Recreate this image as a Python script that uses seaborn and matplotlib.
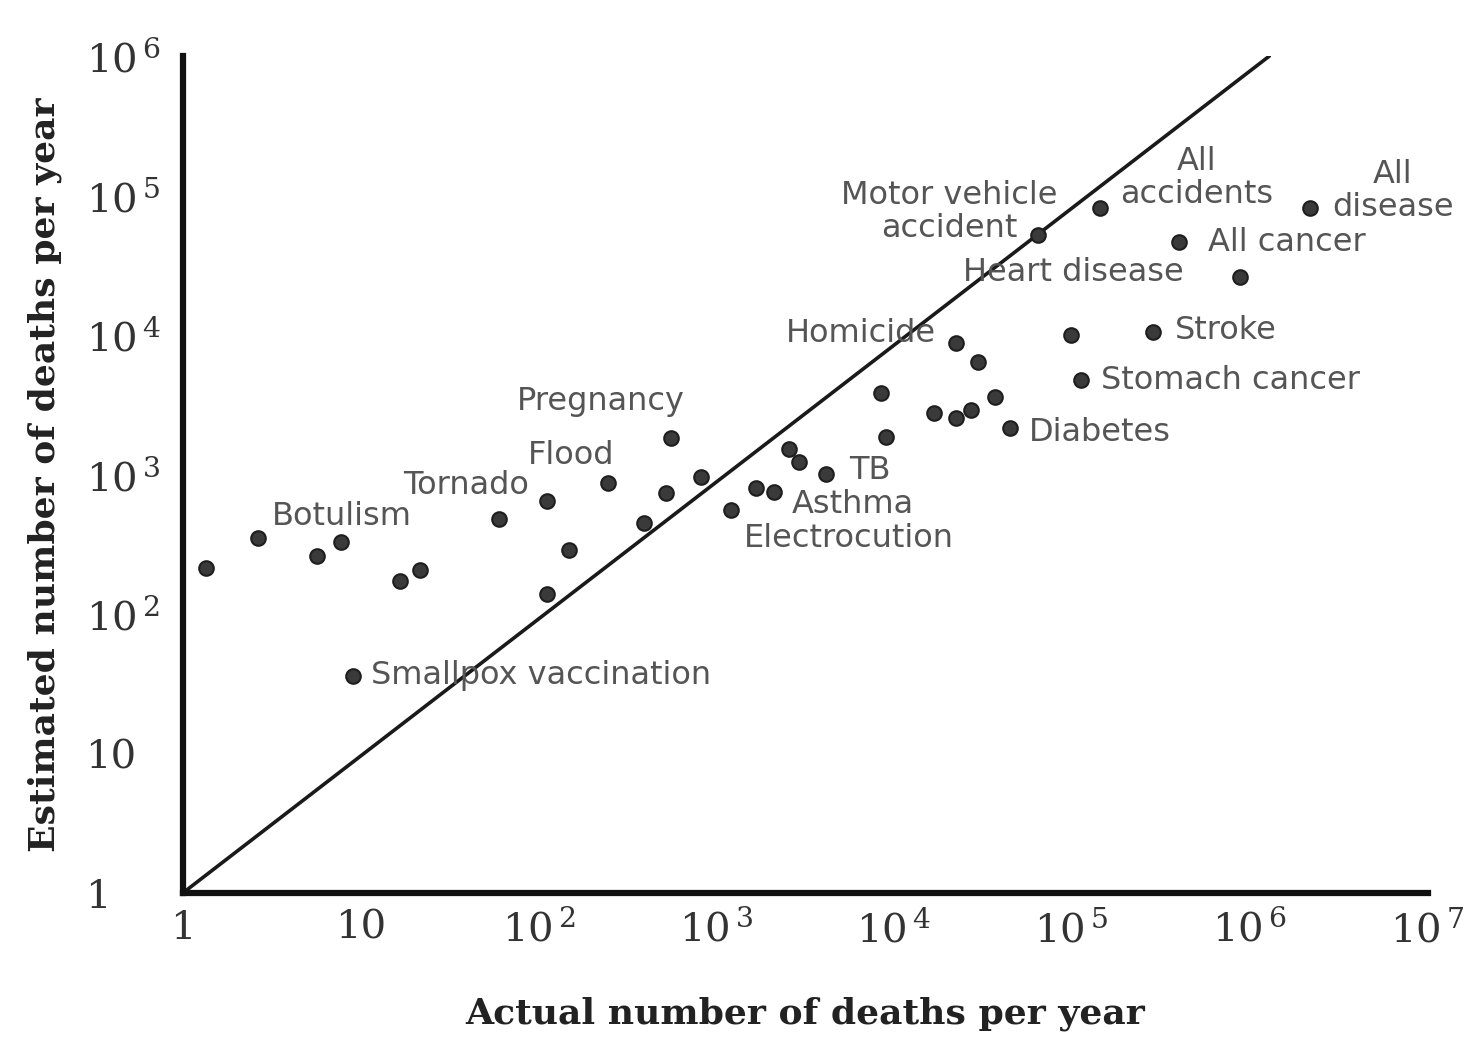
import numpy as np
import pandas as pd
import matplotlib
matplotlib.use("Agg")
import matplotlib.pyplot as plt
import seaborn as sns

# ---- data ----
actual = [1.35, 2.64, 5.7, 7.8, 16.6, 21.7, 9.1, 60, 112, 247, 149, 112,
          559, 524, 824, 394, 1214, 1678, 2118, 2570, 2926, 4150,
          8450, 9020, 16800, 22300, 27100, 37400, 45400, 22300, 29700,
          65300, 145600, 2.2e6, 404000, 889000, 289000, 100000, 114000]
estimated = [214, 351, 261, 328, 172, 207, 36, 480, 646, 869, 288, 139,
             1830, 737, 960, 449, 557, 800, 750, 1524, 1230, 1009,
             3840, 1857, 2760, 2540, 2900, 3590, 2155, 8770, 6400,
             52100, 81300, 81300, 46400, 26000, 10500, 10000, 4760]
labels = ["", "Botulism", "", "", "", "", "Smallpox vaccination", "", "Tornado",
          "Flood", "", "", "Pregnancy", "", "", "", "Electrocution", "", "Asthma",
          "", "", "TB", "", "", "", "", "", "", "Diabetes", "Homicide", "",
          "Motor vehicle\naccident", "All\naccidents", "All\ndisease", "All cancer",
          "Heart disease", "Stroke", "", "Stomach cancer"]
line_x = [1, 1.3e6]
line_y = [1, 1e6]
x_ticks = [1, 10, 1e2, 1e3, 1e4, 1e5, 1e6, 1e7]
x_ticklabels = ["1", "10", "10$^{\\,2}$", "10$^{\\,3}$", "10$^{\\,4}$", "10$^{\\,5}$", "10$^{\\,6}$", "10$^{\\,7}$"]
y_ticks = [1, 10, 1e2, 1e3, 1e4, 1e5, 1e6]
y_ticklabels = ["1", "10", "10$^{\\,2}$", "10$^{\\,3}$", "10$^{\\,4}$", "10$^{\\,5}$", "10$^{\\,6}$"]
x_title = "Actual number of deaths per year"
y_title = "Estimated number of deaths per year"

# label placement (layout): offset in pixels, horizontal alignment
label_layout = {
    "Botulism": (14, 21, "left"),
    "Smallpox vaccination": (18, 0, "left"),
    "Tornado": (-18, 16, "right"),
    "Flood": (6, 28, "right"),
    "Pregnancy": (14, 36, "right"),
    "Electrocution": (13, -28, "left"),
    "Asthma": (18, -13, "left"),
    "TB": (23, 4, "left"),
    "Homicide": (-20, 10, "right"),
    "Diabetes": (18, -4, "left"),
    "Stomach cancer": (20, 0, "left"),
    "Stroke": (22, 2, "left"),
    "Heart disease": (-56, 5, "right"),
    "All cancer": (29, 0, "left"),
    "Motor vehicle\naccident": (-89, 23, "center"),
    "All\naccidents": (96, 30, "center"),
    "All\ndisease": (83, 17, "center"),
}

df = pd.DataFrame({"actual": actual, "estimated": estimated, "label": labels})

sns.set_theme(style="white")
plt.rcParams["mathtext.fontset"] = "dejavuserif"

fig = plt.figure(figsize=(14.74, 10.39), dpi=100)
ax = fig.add_axes([0.124, 0.1405, 0.845, 0.8055])

sns.lineplot(x=line_x, y=line_y, ax=ax, color="#1a1a1a", linewidth=2.6, estimator=None)
sns.scatterplot(data=df, x="actual", y="estimated", ax=ax, s=110,
                color="#3a3a3a", edgecolor="#1e1e1e", linewidth=1.5, zorder=3)

ax.set_xscale("log")
ax.set_yscale("log")
ax.set_xlim(1, 1.02e7)
ax.set_ylim(1, 1e6)

ax.set_xticks(x_ticks)
ax.set_xticklabels(x_ticklabels)
ax.set_yticks(y_ticks)
ax.set_yticklabels(y_ticklabels)
ax.minorticks_off()

for t in ax.get_xticklabels() + ax.get_yticklabels():
    t.set_fontfamily("DejaVu Serif")
    t.set_fontsize(29)
    t.set_color("#333333")

ax.tick_params(axis="y", direction="in", length=20, width=3, color="#111111", pad=70)
ax.tick_params(axis="x", direction="in", length=16, width=3, color="#111111", pad=12)
for lbl in ax.get_yticklabels():
    lbl.set_horizontalalignment("left")

for side in ["top", "right"]:
    ax.spines[side].set_visible(False)
for side in ["left", "bottom"]:
    ax.spines[side].set_linewidth(4.5)
    ax.spines[side].set_color("#111111")

ax.set_xlabel(x_title, fontfamily="DejaVu Serif", fontweight="bold", fontsize=26,
              color="#222222", labelpad=34)
ax.set_ylabel(y_title, fontfamily="DejaVu Serif", fontweight="bold", fontsize=26,
              color="#222222")
ax.yaxis.set_label_coords(-0.097, 0.5)

for xv, yv, lab in zip(actual, estimated, labels):
    if not lab:
        continue
    dx, dy, ha = label_layout[lab]
    ax.annotate(lab, (xv, yv), xytext=(dx, dy), textcoords="offset pixels",
                ha=ha, va="center", multialignment="center",
                fontsize=23, color="#555555", fontfamily="DejaVu Sans",
                linespacing=1.1, zorder=4)

ax.set_facecolor("white")
fig.patch.set_facecolor("white")
ax.grid(False)

fig.savefig("out.png", dpi=100, facecolor="white")
